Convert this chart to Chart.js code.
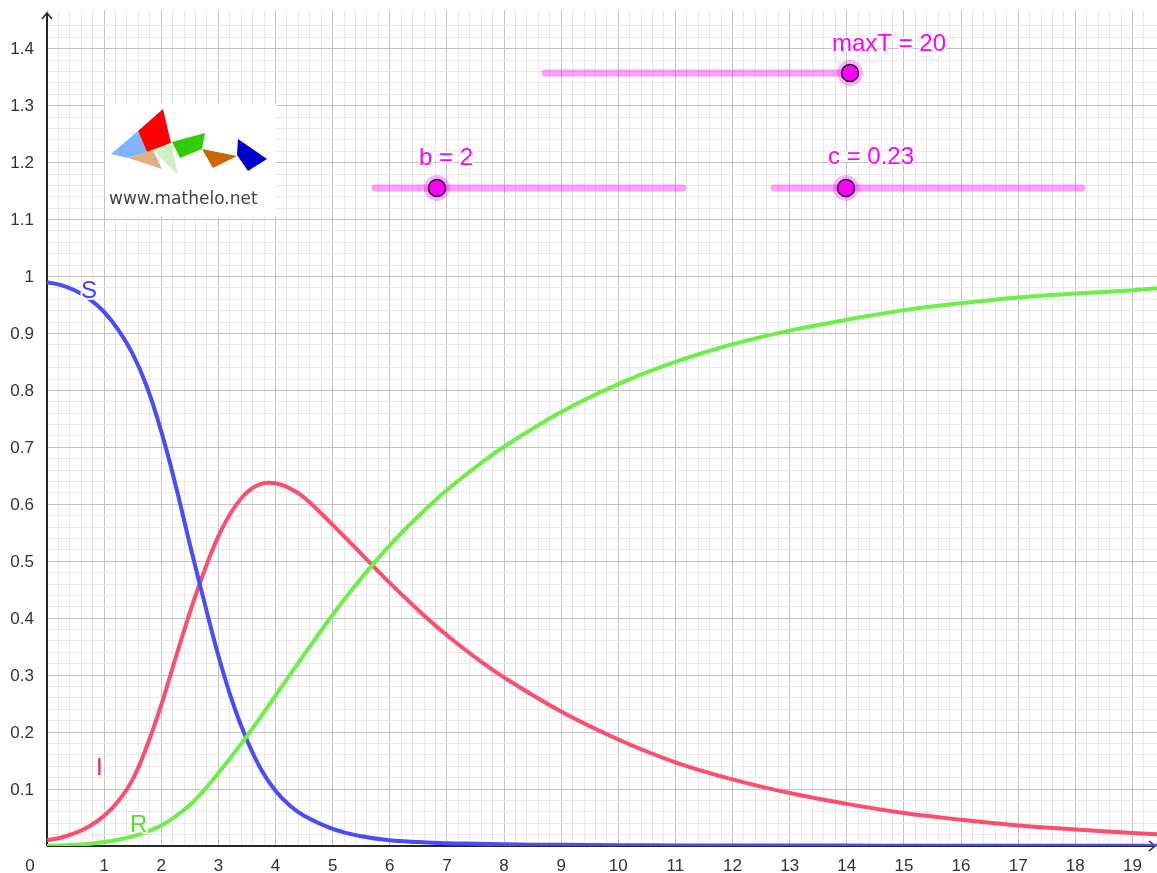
<!DOCTYPE html>
<html>
<head>
<meta charset="utf-8">
<script src="https://cdn.jsdelivr.net/npm/chart.js@4.4.1/dist/chart.umd.min.js"></script>
<style>
  html, body { margin: 0; padding: 0; background: #fff; }
  canvas { display: block; }
</style>
</head>
<body>
<canvas id="chart" width="1157" height="873"></canvas>
<script>
// temps (jours) et valeurs
const T = [0, 0.25, 0.5, 0.75, 1, 1.25, 1.5, 1.75, 2, 2.25, 2.5, 2.75, 3, 3.25, 3.5, 3.75, 4, 4.25, 4.5,
  5, 5.5, 6, 6.5, 7, 7.5, 8, 9, 10, 11, 12, 13, 14, 15, 16, 17, 18, 19, 19.5];
const S = [0.990, 0.985, 0.975, 0.960, 0.938, 0.906, 0.864, 0.806, 0.728, 0.634, 0.530, 0.430, 0.334, 0.252,
  0.186, 0.134, 0.097, 0.071, 0.053, 0.030, 0.017, 0.010, 0.007, 0.005, 0.004, 0.003, 0.002, 0.0015, 0.001,
  0.001, 0.0008, 0.0007, 0.0006, 0.0005, 0.0005, 0.0004, 0.0004, 0.0004];
const I = [0.010, 0.015, 0.023, 0.035, 0.053, 0.079, 0.117, 0.176, 0.248, 0.330, 0.410, 0.482, 0.544, 0.590,
  0.621, 0.636, 0.637, 0.628, 0.612, 0.564, 0.513, 0.462, 0.414, 0.370, 0.331, 0.296, 0.236, 0.187, 0.147,
  0.117, 0.093, 0.074, 0.058, 0.046, 0.036, 0.029, 0.023, 0.020];
const R = [0, 0.001, 0.002, 0.004, 0.007, 0.011, 0.017, 0.025, 0.036, 0.052, 0.072, 0.098, 0.128, 0.160,
  0.193, 0.228, 0.264, 0.300, 0.336, 0.406, 0.470, 0.528, 0.579, 0.625, 0.665, 0.701, 0.762, 0.811, 0.850,
  0.881, 0.905, 0.924, 0.941, 0.953, 0.963, 0.970, 0.976, 0.980];

const X_TICKS = [1, 2, 3, 4, 5, 6, 7, 8, 9, 10, 11, 12, 13, 14, 15, 16, 17, 18, 19];
const Y_TICKS = [0.1, 0.2, 0.3, 0.4, 0.5, 0.6, 0.7, 0.8, 0.9, 1, 1.1, 1.2, 1.3, 1.4];
const Y_TICK_LABELS = ["0.1", "0.2", "0.3", "0.4", "0.5", "0.6", "0.7", "0.8", "0.9", "1", "1.1", "1.2", "1.3", "1.4"];

const SLIDER_LABELS = ["maxT = 20", "b = 2", "c = 0.23"];

const FONT = '"Liberation Sans", Arial, sans-serif';
const C_S = '#4a4aff', C_I = '#ff4d6d', C_R = '#6cef46';

const $ = (id) => document.getElementById(id);

function onStep(v, step){
  const r = v / step;
  return Math.abs(r - Math.round(r)) < 1e-6;
}
function gridColor(v, major, minor){
  if (onStep(v, major)) return '#c2c2c2';
  if (onStep(v, minor)) return '#e8e8e8';
  return 'rgba(0,0,0,0)';
}

function pts(ys){ return T.map((t, i) => ({ x: t, y: ys[i] })); }

// petites aides de dessin
function arrowLine(ctx, ax, ay, bx, by, cx, cy){
  ctx.beginPath(); ctx.moveTo(ax, ay); ctx.lineTo(bx, by); ctx.lineTo(cx, cy); ctx.stroke();
}
function poly(ctx, p, color){
  ctx.fillStyle = color;
  ctx.beginPath();
  ctx.moveTo(p[0][0], p[0][1]);
  for (let k = 1; k < p.length; k++) ctx.lineTo(p[k][0], p[k][1]);
  ctx.closePath(); ctx.fill();
}
function haloText(ctx, txt, x, y, color){
  ctx.lineJoin = 'round';
  ctx.strokeStyle = 'rgba(255,255,255,0.9)'; ctx.lineWidth = 4;
  ctx.strokeText(txt, x, y);
  ctx.fillStyle = color; ctx.fillText(txt, x, y);
}
function slider(ctx, x1, x2, y, knob){
  ctx.save();
  ctx.strokeStyle = 'rgba(255,0,255,0.38)'; ctx.lineWidth = 7; ctx.lineCap = 'round';
  ctx.beginPath(); ctx.moveTo(x1, y); ctx.lineTo(x2, y); ctx.stroke();
  ctx.fillStyle = 'rgba(255,0,255,0.3)';
  ctx.beginPath(); ctx.arc(knob, y, 13, 0, Math.PI * 2); ctx.fill();
  ctx.fillStyle = '#ff00ff'; ctx.strokeStyle = '#111'; ctx.lineWidth = 1.5;
  ctx.beginPath(); ctx.arc(knob, y, 8.5, 0, Math.PI * 2); ctx.fill(); ctx.stroke();
  ctx.restore();
}

const decor = {
  id: 'decor',
  beforeDatasetsDraw(chart){
    const { ctx, scales: { x, y }, chartArea } = chart;
    const x0 = x.getPixelForValue(0), y0 = y.getPixelForValue(0);
    ctx.save();
    ctx.strokeStyle = '#262626'; ctx.lineWidth = 2;
    ctx.beginPath();
    ctx.moveTo(x0, y0); ctx.lineTo(x0, chartArea.top + 3);
    ctx.moveTo(x0, y0); ctx.lineTo(chart.width - 2, y0);
    ctx.stroke();
    ctx.lineWidth = 1.5;
    arrowLine(ctx, x0 - 5, chartArea.top + 9, x0, chartArea.top + 3, x0 + 5, chartArea.top + 9);
    arrowLine(ctx, chart.width - 8, y0 - 5, chart.width - 2, y0, chart.width - 8, y0 + 5);

    ctx.fillStyle = '#333';
    ctx.font = `17px ${FONT}`;
    ctx.textAlign = 'center'; ctx.textBaseline = 'alphabetic';
    X_TICKS.forEach(v => ctx.fillText(String(v), x.getPixelForValue(v), y0 + 25));
    ctx.fillText('0', x0 - 17, y0 + 25);
    ctx.textAlign = 'right'; ctx.textBaseline = 'middle';
    Y_TICKS.forEach((v, k) => ctx.fillText(Y_TICK_LABELS[k], x0 - 13, y.getPixelForValue(v) + 1));
    ctx.restore();
  },
  afterDatasetsDraw(chart){
    const { ctx } = chart;
    ctx.save();
    // noms des courbes
    ctx.font = `24px ${FONT}`;
    ctx.textAlign = 'left'; ctx.textBaseline = 'alphabetic';
    haloText(ctx, 'S', 81, 298, '#3b3bff');
    haloText(ctx, 'I', 96, 775, '#e8284f');
    haloText(ctx, 'R', 130, 832, '#55e030');

    // logo
    ctx.fillStyle = '#fff';
    ctx.fillRect(105, 103, 171, 114);
    poly(ctx, [[111, 154], [138, 131], [147, 152], [128, 158]], '#80b4ff');
    poly(ctx, [[138, 131], [163, 109], [171, 143], [147, 152]], '#ff0000');
    poly(ctx, [[128, 158], [153, 150], [162, 169]], '#e2b080');
    poly(ctx, [[153, 150], [171, 143], [178, 175]], '#cdf0c4');
    poly(ctx, [[172, 142], [205, 133], [202, 149], [180, 158]], '#33cc00');
    poly(ctx, [[202, 149], [237, 156], [213, 168]], '#cc6600');
    poly(ctx, [[238, 139], [267, 159], [248, 171], [237, 155]], '#0000cc');
    ctx.fillStyle = '#444';
    ctx.font = '17px "DejaVu Sans", sans-serif';
    ctx.textAlign = 'left';
    ctx.fillText('www.mathelo.net', 109, 204);

    // curseurs
    slider(ctx, 545, 850, 73, 850);
    slider(ctx, 375, 683, 188, 437);
    slider(ctx, 774, 1082, 188, 846);
    ctx.font = `24px ${FONT}`;
    haloText(ctx, SLIDER_LABELS[0], 832, 51, '#ff00ff');
    haloText(ctx, SLIDER_LABELS[1], 419, 165, '#ff00ff');
    haloText(ctx, SLIDER_LABELS[2], 828, 164, '#ff00ff');
    ctx.restore();
  }
};

const lineDs = (label, ys, color, order) => ({
  label, data: pts(ys), borderColor: color, borderWidth: 4,
  pointRadius: 0, fill: false, tension: 0.4, order
});

new Chart($('chart'), {
  type: 'line',
  data: {
    datasets: [
      lineDs('S', S, C_S, 1),
      lineDs('I', I, C_I, 2),
      lineDs('R', R, C_R, 0)
    ]
  },
  options: {
    responsive: false,
    devicePixelRatio: 1,
    animation: false,
    layout: { padding: { left: 47, top: 10, right: 0, bottom: 27 } },
    plugins: { legend: { display: false }, tooltip: { enabled: false } },
    scales: {
      x: {
        type: 'linear', min: 0, max: 19.43,
        ticks: { display: false, stepSize: 0.2 },
        grid: { drawTicks: false, lineWidth: 1, color: c => gridColor(c.tick.value, 1, 0.2) },
        border: { display: false }
      },
      y: {
        type: 'linear', min: 0, max: 1.468,
        ticks: { display: false, stepSize: 0.02 },
        grid: { drawTicks: false, lineWidth: 1, color: c => gridColor(c.tick.value, 0.1, 0.02) },
        border: { display: false }
      }
    }
  },
  plugins: [decor]
});
</script>
</body>
</html>
